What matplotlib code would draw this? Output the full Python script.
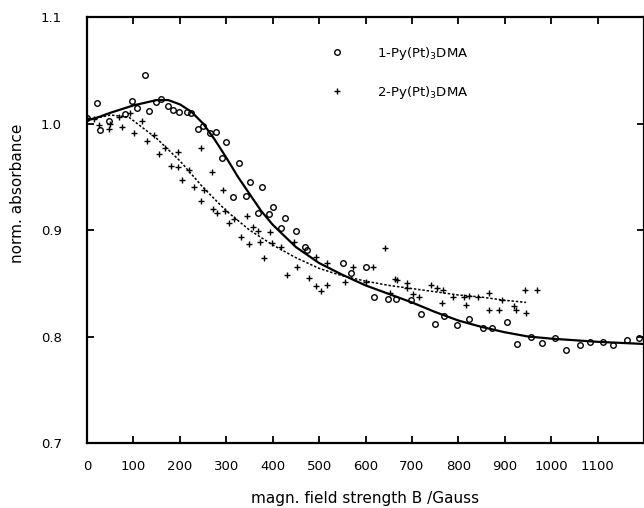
import matplotlib
matplotlib.use("Agg")
import matplotlib.pyplot as plt

# ---- data ----
x1 = [0, 22, 29, 47, 81, 96, 107, 124, 134, 149, 160, 174, 186, 199, 215, 225, 239, 250, 265, 277,
      290, 300, 314, 328, 342, 351, 368, 376, 392, 401, 417, 426, 450, 470, 474, 551, 569, 600, 618, 649,
      666, 698, 720, 749, 770, 798, 824, 853, 873, 905, 927, 957, 980, 1008, 1031, 1062, 1084, 1112, 1134, 1164, 1189]
y1 = [1.005, 1.019, 0.994, 1.002, 1.009, 1.021, 1.015, 1.046, 1.012, 1.020, 1.023, 1.016, 1.013, 1.011, 1.011,
      1.010, 0.995, 0.998, 0.991, 0.992, 0.968, 0.983, 0.931, 0.963, 0.932, 0.945, 0.916, 0.940, 0.915, 0.922,
      0.902, 0.911, 0.899, 0.884, 0.881, 0.869, 0.860, 0.865, 0.837, 0.835, 0.835, 0.834, 0.821, 0.812, 0.819,
      0.811, 0.816, 0.808, 0.808, 0.814, 0.793, 0.800, 0.794, 0.799, 0.787, 0.792, 0.795, 0.795, 0.792, 0.797, 0.799]

x2 = [0, 16, 25, 47, 50, 70, 76, 92, 102, 119, 130, 144, 155, 169, 180, 195, 197, 205, 220, 231,
      245, 245, 253, 269, 272, 281, 294, 297, 306, 317, 331, 344, 348, 358, 369, 372, 382, 395, 398, 418,
      431, 445, 452, 479, 493, 493, 504, 517, 517, 555, 573, 601, 616, 643, 652, 664, 668, 689, 690, 702,
      715, 742, 755, 764, 766, 788, 813, 816, 822, 842, 866, 866, 888, 893, 920, 924, 944, 946, 970]
y2 = [1.005, 1.004, 0.999, 0.995, 1.000, 1.006, 0.997, 1.010, 0.991, 1.002, 0.984, 0.989, 0.971, 0.977, 0.960,
      0.973, 0.959, 0.947, 0.956, 0.940, 0.977, 0.927, 0.938, 0.954, 0.920, 0.916, 0.938, 0.918, 0.907, 0.910,
      0.893, 0.913, 0.887, 0.903, 0.899, 0.889, 0.874, 0.898, 0.888, 0.884, 0.858, 0.889, 0.865, 0.855, 0.875,
      0.847, 0.843, 0.848, 0.869, 0.851, 0.865, 0.851, 0.865, 0.883, 0.841, 0.854, 0.853, 0.846, 0.850, 0.840,
      0.837, 0.848, 0.846, 0.831, 0.844, 0.837, 0.837, 0.830, 0.838, 0.837, 0.841, 0.825, 0.825, 0.834, 0.829,
      0.825, 0.844, 0.822, 0.844]

fit1_x = [0, 25, 50, 100, 150, 175, 200, 225, 250, 275, 300, 325, 350, 375, 400, 450, 500, 550, 600, 650,
          700, 750, 800, 850, 900, 950, 1000, 1100, 1200]
fit1_y = [1.003, 1.006, 1.010, 1.017, 1.022, 1.022, 1.018, 1.011, 1.000, 0.985, 0.968, 0.950, 0.934, 0.918,
          0.905, 0.884, 0.869, 0.858, 0.848, 0.840, 0.832, 0.823, 0.815, 0.809, 0.804, 0.800, 0.798, 0.795, 0.793]

fit2_x = [0, 50, 90, 150, 200, 250, 300, 350, 400, 450, 500, 550, 600, 650, 700, 750, 800, 850, 900, 946]
fit2_y = [1.003, 1.008, 1.006, 0.986, 0.965, 0.940, 0.918, 0.900, 0.886, 0.874, 0.864, 0.857, 0.852, 0.848,
          0.845, 0.842, 0.839, 0.837, 0.834, 0.832]

labels = ["1-Py(Pt)$_3$DMA", "2-Py(Pt)$_3$DMA"]
xticks = [0, 100, 200, 300, 400, 500, 600, 700, 800, 900, 1000, 1100]
yticks = [0.7, 0.8, 0.9, 1.0, 1.1]

plt.rcParams['font.family'] = ['DejaVu Sans']
plt.rcParams['mathtext.default'] = 'regular'

fig = plt.figure(figsize=(6.44, 5.08), dpi=100)
ax = fig.add_axes([87 / 644, 65 / 508, 557 / 644, 426 / 508])

ax.plot(fit1_x, fit1_y, color='black', lw=1.6, solid_capstyle='round')
ax.plot(fit2_x, fit2_y, color='black', lw=1.1, linestyle=(0, (1.6, 1.2)))

ax.plot(x1, y1, linestyle='none', marker='o', ms=4.0, mfc='none', mec='black', mew=1.0, label=labels[0])
ax.plot(x2, y2, linestyle='none', marker='+', ms=4.5, mec='black', mew=1.0, label=labels[1])

ax.set_xlim(0, 1200)
ax.set_ylim(0.7, 1.1)
ax.set_xticks(xticks)
ax.set_xticklabels([str(t) for t in xticks])
ax.set_yticks(yticks)
ax.set_yticklabels([f"{t:.1f}" for t in yticks])

ax.tick_params(axis='both', which='both', direction='in', length=5, width=1.3,
               top=True, right=True, labelsize=9.5)
ax.tick_params(axis='x', pad=12)
ax.tick_params(axis='y', pad=18)
for s in ax.spines.values():
    s.set_linewidth(1.6)

ax.set_xlabel("magn. field strength B /Gauss", fontsize=11, va='center')
ax.xaxis.set_label_coords(0.5, -(499 - 443) / 426)
ax.set_ylabel("norm. absorbance", fontsize=11)
ax.yaxis.set_label_coords(-(87 - 25) / 557, (443 - 193) / 426)

ax.legend(loc='upper left', bbox_to_anchor=(324 / 644, 1 - 45 / 508), bbox_transform=fig.transFigure,
          frameon=False, fontsize=9.5, handlelength=2.0, handletextpad=2.0, labelspacing=1.65,
          borderpad=0, borderaxespad=0, numpoints=1)

fig.savefig("out.png", dpi=100)
